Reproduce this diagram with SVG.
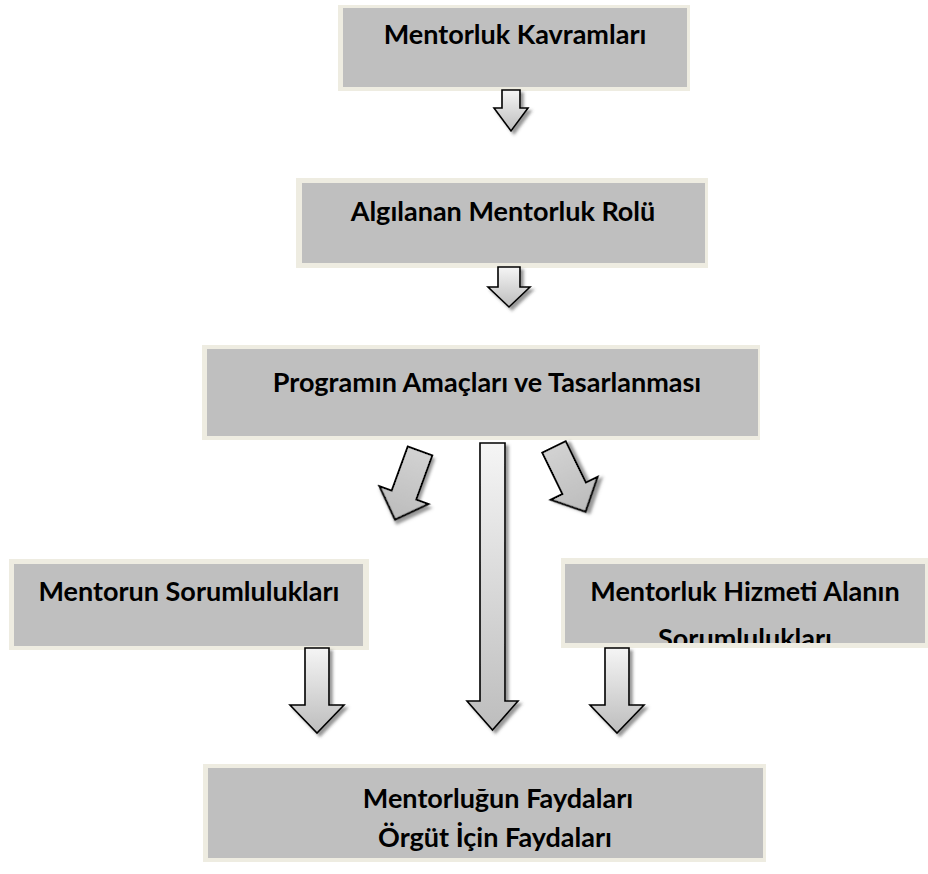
<svg xmlns="http://www.w3.org/2000/svg" width="928" height="874" viewBox="0 0 928 874">
  <style>
    .frame { fill: #eeece1; }
    .panel { fill: #bfbfbf; }
    .label { font-family: Lato, "Open Sans", "Liberation Sans", sans-serif; font-weight: bold; font-size: 27px; fill: #000; text-anchor: middle; }
    .down { fill: url(#downFill); stroke: #000; stroke-width: 1.6; stroke-linejoin: miter; filter: url(#shade); }
    .slant { fill: url(#slantFill); stroke: #000; stroke-width: 2; stroke-linejoin: miter; filter: url(#shade); }
  </style>
  <defs>
    <linearGradient id="downFill" x1="0" y1="0" x2="0" y2="1">
      <stop offset="0" stop-color="#f5f5f5"/>
      <stop offset="1" stop-color="#bdbdbd"/>
    </linearGradient>
    <linearGradient id="slantFill" x1="0" y1="0" x2="0" y2="1">
      <stop offset="0" stop-color="#d2d2d2"/>
      <stop offset="1" stop-color="#bcbcbc"/>
    </linearGradient>
    <filter id="shade" x="-30%" y="-30%" width="160%" height="160%">
      <feDropShadow dx="3" dy="3" stdDeviation="1.5" flood-color="#444" flood-opacity="0.55"/>
    </filter>
    <clipPath id="clipRight">
      <rect x="565" y="564" width="360" height="79"/>
    </clipPath>
  </defs>

  <rect width="928" height="874" fill="#fff"/>

  <!-- boxes -->
  <g id="kavramlar">
    <rect class="frame" x="338" y="5" width="352" height="86"/>
    <rect class="panel" x="343" y="8" width="344" height="79"/>
    <text class="label" x="515" y="44">Mentorluk Kavramları</text>
  </g>

  <g id="rol">
    <rect class="frame" x="296" y="178" width="412" height="90"/>
    <rect class="panel" x="302" y="183" width="403" height="80"/>
    <text class="label" x="503" y="221">Algılanan Mentorluk Rolü</text>
  </g>

  <g id="program">
    <rect class="frame" x="202" y="345" width="558" height="95"/>
    <rect class="panel" x="207" y="349" width="551" height="87"/>
    <text class="label" x="487" y="392">Programın Amaçları ve Tasarlanması</text>
  </g>

  <g id="mentor">
    <rect class="frame" x="9" y="559" width="360" height="91"/>
    <rect class="panel" x="14" y="564" width="349" height="82"/>
    <text class="label" x="189" y="601">Mentorun Sorumlulukları</text>
  </g>

  <g id="mentee">
    <rect class="frame" x="561" y="558" width="367" height="90"/>
    <rect class="panel" x="565" y="564" width="360" height="79"/>
    <g clip-path="url(#clipRight)">
      <text class="label" x="745" y="601">Mentorluk Hizmeti Alanın</text>
      <text class="label" x="745" y="648">Sorumlulukları</text>
    </g>
  </g>

  <g id="faydalar">
    <rect class="frame" x="203" y="764" width="563" height="98"/>
    <rect class="panel" x="208" y="768" width="555" height="90"/>
    <text class="label" x="498" y="808">Mentorluğun Faydaları</text>
    <text class="label" x="495" y="847">Örgüt İçin Faydaları</text>
  </g>

  <!-- block arrows -->
  <g id="connectors">
    <path class="down" d="M502,90 H520 V108 H528 L511,131 L494,108 H502 Z"/>
    <path class="down" d="M498,267 H520 V287 H530 L509,307 L488,287 H498 Z"/>
    <path class="slant" transform="translate(420,451) rotate(20)" d="M-13,0 H13 V47 H26 L0,73 L-26,47 H-13 Z"/>
    <path class="slant" transform="translate(554,447) rotate(-26)" d="M-13,0 H13 V46 H26 L0,72 L-26,46 H-13 Z"/>
    <path class="down" d="M480,443 H505 V701 H518 L492.5,730 L467,701 H480 Z"/>
    <path class="down" d="M305,648 H329 V705 H344 L317,733 L290,705 H305 Z"/>
    <path class="down" d="M605,648 H629 V705 H644 L617,733 L590,705 H605 Z"/>
  </g>
</svg>
